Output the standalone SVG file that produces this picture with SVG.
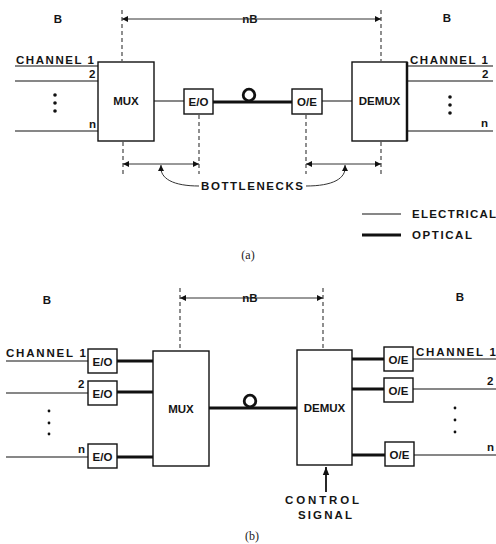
<svg xmlns="http://www.w3.org/2000/svg" width="496" height="544" viewBox="0 0 496 544">
<defs>
<marker id="ah" viewBox="0 0 10 10" refX="10" refY="5" markerWidth="8" markerHeight="6" orient="auto-start-reverse" markerUnits="userSpaceOnUse">
<path d="M0,0 L10,5 L0,10 z" fill="#111"/>
</marker>
<marker id="ahb" viewBox="0 0 10 10" refX="10" refY="5" markerWidth="8" markerHeight="8" orient="auto" markerUnits="userSpaceOnUse">
<path d="M0,1 L10,5 L0,9 z" fill="#111"/>
</marker>
</defs>
<style>
.t{font-family:"Liberation Sans",Arial,sans-serif;font-weight:bold;font-size:11.5px;fill:#151515}
.c{text-anchor:middle}
.cap{font-family:"Liberation Serif","Times New Roman",serif;font-size:12px;fill:#222;text-anchor:middle}
.box{fill:#fff;stroke:#111;stroke-width:1.4}
.el{stroke:#111;stroke-width:1.2;fill:none}
.op{stroke:#111;stroke-width:3.2;fill:none}
.dash{stroke:#333;stroke-width:1.1;stroke-dasharray:4,3;fill:none}
.dim{stroke:#333;stroke-width:1;fill:none}
.loop{fill:none;stroke:#111;stroke-width:2.8}
</style>
<rect width="496" height="544" fill="#fff"/>

<!-- ===== (a) ===== -->
<g id="labels-a">
<text class="t c" x="58" y="23">B</text>
<text class="t c" x="250" y="23">nB</text>
<text class="t c" x="447" y="22">B</text>
<text class="t" x="16" y="64" textLength="78" lengthAdjust="spacing">CHANNEL 1</text>
<text class="t" x="89" y="78">2</text>
<text class="t" x="89" y="128">n</text>
<text class="t" x="410" y="64" textLength="78" lengthAdjust="spacing">CHANNEL 1</text>
<text class="t" x="482" y="78">2</text>
<text class="t" x="481" y="127">n</text>
<text class="t" x="201" y="190" textLength="102" lengthAdjust="spacing">BOTTLENECKS</text>
<text class="t" x="412" y="218" textLength="84" lengthAdjust="spacing">ELECTRICAL</text>
<text class="t" x="412" y="239" textLength="60" lengthAdjust="spacing">OPTICAL</text>
<text class="cap" x="248" y="259">(a)</text>
<g fill="#111"><circle cx="55" cy="95" r="1.8"/><circle cx="55" cy="103" r="1.8"/><circle cx="55" cy="111" r="1.8"/>
<circle cx="450" cy="97" r="1.8"/><circle cx="450" cy="105" r="1.8"/><circle cx="450" cy="113" r="1.8"/></g>
</g>

<g id="connectors">
<!-- (a) electrical inputs -->
<path class="el" d="M15,66 H98 M15,81 H98 M15,131 H98"/>
<path class="el" d="M154,101 H184 M322,101 H352"/>
<path class="el" d="M407,66 H493 M407,81 H493 M407,131 H493"/>
<!-- (a) optical fiber with loop -->
<path class="op" d="M213,102 H292" stroke-width="2.8"/>
<circle class="loop" cx="249" cy="95" r="5.8"/>
<!-- (a) dimension nB -->
<path class="dash" d="M122,10 V61 M381,10 V61"/>
<line class="dim" x1="122" y1="19" x2="381" y2="19" marker-start="url(#ah)" marker-end="url(#ah)"/>
<!-- (a) bottleneck dimensions -->
<path class="dash" d="M123,142 V174 M199,115 V174 M306,115 V174 M381,142 V174"/>
<line class="dim" x1="123" y1="164" x2="199" y2="164" marker-start="url(#ah)" marker-end="url(#ah)"/>
<line class="dim" x1="306" y1="164" x2="381" y2="164" marker-start="url(#ah)" marker-end="url(#ah)"/>
<path class="dim" d="M161,165 C159,179 174,186 199,186" stroke-width="1.2"/>
<path class="dim" d="M345,165 C347,179 332,186 306,186" stroke-width="1.2"/>
<path d="M158,171 L161,165 L164,171 z M342,171 L345,165 L348,171 z" fill="#111"/>
<!-- legend -->
<path class="el" d="M362,214 H401"/>
<path class="op" d="M362,235 H401"/>

<!-- (b) -->
<path class="dash" d="M180,288 V350 M323,288 V349"/>
<line class="dim" x1="180" y1="298" x2="323" y2="298" marker-start="url(#ah)" marker-end="url(#ah)"/>
<path class="el" d="M6,361 H88 M6,393 H88 M6,457 H88"/>
<path class="op" d="M117,361 H153 M117,392 H153 M117,457 H153"/>
<path class="op" d="M209,408 H297" stroke-width="3"/>
<circle class="loop" cx="250" cy="401" r="5.8"/>
<path class="op" d="M352,359 H384 M352,389 H384 M352,455 H385"/>
<path class="el" d="M413,359 H496 M413,389 H496 M414,455 H496"/>
<line x1="326" y1="492" x2="326" y2="467" stroke="#111" stroke-width="1.8" marker-end="url(#ahb)"/>
</g>

<g id="mux-a"><rect class="box" x="98" y="62" width="56" height="79"/><text class="t c" x="126" y="105">MUX</text></g>
<g id="eo-a"><rect class="box" x="184" y="89" width="29" height="25"/><text class="t c" x="198.5" y="106">E/O</text></g>
<g id="oe-a"><rect class="box" x="292" y="89" width="30" height="25"/><text class="t c" x="307" y="106">O/E</text></g>
<g id="demux-a"><rect class="box" x="352" y="62" width="55" height="79"/><line x1="407" y1="62" x2="407" y2="141" stroke="#111" stroke-width="2.5"/><text class="t c" x="379.5" y="105">DEMUX</text></g>

<!-- ===== (b) ===== -->
<g id="labels-b">
<text class="t c" x="47" y="304">B</text>
<text class="t c" x="250" y="302">nB</text>
<text class="t c" x="460" y="301">B</text>
<text class="t" x="6" y="357" textLength="80" lengthAdjust="spacing">CHANNEL 1</text>
<text class="t" x="78" y="388">2</text>
<text class="t" x="78" y="453">n</text>
<text class="t" x="416" y="356" textLength="80" lengthAdjust="spacing">CHANNEL 1</text>
<text class="t" x="487" y="385">2</text>
<text class="t" x="487" y="451">n</text>
<text class="t c" x="322" y="504" textLength="74" lengthAdjust="spacing">CONTROL</text>
<text class="t c" x="325" y="519" textLength="54" lengthAdjust="spacing">SIGNAL</text>
<text class="cap" x="252" y="540">(b)</text>
<g fill="#111"><circle cx="49" cy="411" r="1.4"/><circle cx="49" cy="423" r="1.4"/><circle cx="49" cy="434" r="1.4"/>
<circle cx="455" cy="408" r="1.4"/><circle cx="455" cy="420" r="1.4"/><circle cx="455" cy="432" r="1.4"/></g>
</g>

<g id="eo-b1"><rect class="box" x="88" y="349" width="29" height="24"/><text class="t c" x="102.5" y="365.5">E/O</text></g>
<g id="eo-b2"><rect class="box" x="88" y="381" width="29" height="24"/><text class="t c" x="102.5" y="397.5">E/O</text></g>
<g id="eo-bn"><rect class="box" x="88" y="444" width="29" height="24"/><text class="t c" x="102.5" y="460.5">E/O</text></g>
<g id="mux-b"><rect class="box" x="153" y="351" width="56" height="115"/><text class="t c" x="181" y="413">MUX</text></g>
<g id="demux-b"><rect class="box" x="297" y="350" width="55" height="115"/><text class="t c" x="324.5" y="412">DEMUX</text></g>
<g id="oe-b1"><rect class="box" x="384" y="347" width="29" height="24"/><text class="t c" x="398.5" y="363.5">O/E</text></g>
<g id="oe-b2"><rect class="box" x="384" y="378" width="29" height="24"/><text class="t c" x="398.5" y="394.5">O/E</text></g>
<g id="oe-bn"><rect class="box" x="385" y="442" width="29" height="24"/><text class="t c" x="399.5" y="458.5">O/E</text></g>
</svg>
